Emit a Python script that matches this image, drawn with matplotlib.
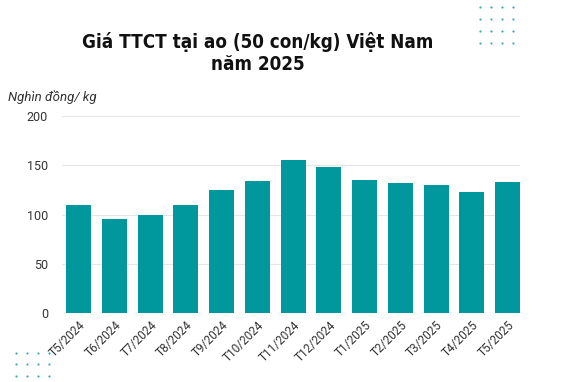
import numpy as np
import matplotlib
matplotlib.use("Agg")
import matplotlib.pyplot as plt

# Data
months = ["T5/2024", "T6/2024", "T7/2024", "T8/2024", "T9/2024", "T10/2024",
          "T11/2024", "T12/2024", "T1/2025", "T2/2025", "T3/2025", "T4/2025", "T5/2025"]
prices = [110, 95, 100, 110, 125, 134, 155, 148, 135, 132, 130, 123, 133]
yticks = [0, 50, 100, 150, 200]

BAR_COLOR = "#00979d"
TEXT_COLOR = "#333333"

fig = plt.figure(figsize=(5.62, 3.82), dpi=100)
ax = fig.add_axes([62 / 562, 1 - 313 / 382, (520 - 62) / 562, (313 - 116) / 382])

x = np.arange(len(months))
ax.bar(x, prices, width=0.7, color=BAR_COLOR, zorder=3)

ax.set_ylim(0, 200)
ax.set_xlim(-0.47, len(months) - 1 + 0.35)
ax.set_yticks(yticks)
ax.set_xticks(x)
ax.set_xticklabels(months, rotation=45, ha="right", rotation_mode="anchor",
                   fontsize=8.5, color=TEXT_COLOR, family="Roboto")
for lbl in ax.get_yticklabels():
    lbl.set_fontsize(9)
    lbl.set_color(TEXT_COLOR)
    lbl.set_family("Roboto")
ax.tick_params(axis="both", length=0)
ax.tick_params(axis="y", pad=10)
ax.tick_params(axis="x", pad=4)
ax.grid(axis="y", color="#e6e6e6", linewidth=0.8, zorder=0)
for side in ax.spines.values():
    side.set_visible(False)

# Title and unit
fig.text(258 / 562, 1 - 53 / 382, "Giá TTCT tại ao (50 con/kg) Việt Nam\nnăm 2025",
         ha="center", va="center", fontsize=13.5, fontweight="bold",
         family="DejaVu Sans", stretch="condensed", color="#111111", linespacing=1.25)
fig.text(8 / 562, 1 - 97 / 382, "Nghìn đồng/ kg", ha="left", va="center",
         fontsize=9.5, style="italic", family="Roboto", color=TEXT_COLOR)

# Decorative dot grids
deco = fig.add_axes([0, 0, 1, 1], facecolor="none")
deco.set_xlim(0, 562)
deco.set_ylim(382, 0)
deco.axis("off")
gx, gy = np.meshgrid([480, 491, 502, 513], [7, 19, 31, 43])
deco.scatter(gx.ravel(), gy.ravel(), s=2.5, color="#3fa9b0", linewidths=0)
gx, gy = np.meshgrid([16, 27, 38, 49], [353, 364, 376])
deco.scatter(gx.ravel(), gy.ravel(), s=2.5, color="#3fa9b0", linewidths=0)

fig.savefig("out.png", dpi=100)
